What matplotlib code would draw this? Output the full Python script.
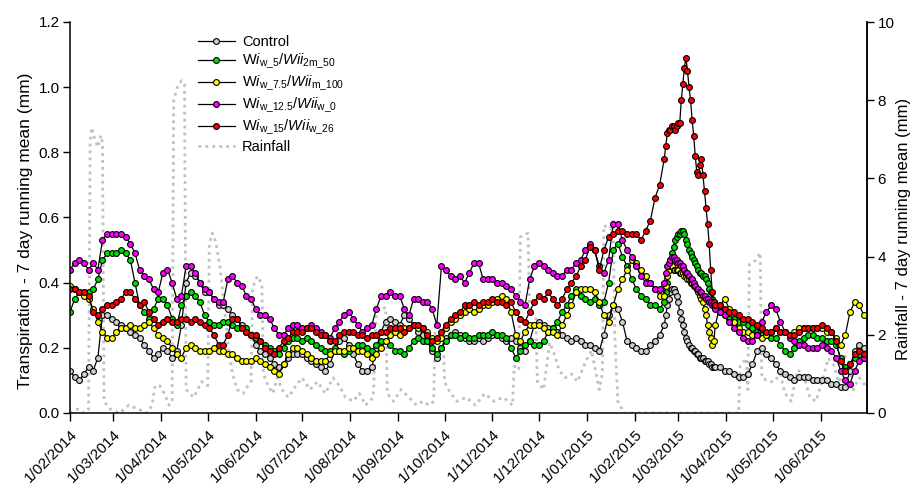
from datetime import datetime

import numpy as np
import pandas as pd
import matplotlib
matplotlib.use("Agg")
import matplotlib.pyplot as plt

plt.rcParams["font.family"] = ["Liberation Sans", "DejaVu Sans"]
plt.rcParams["mathtext.fontset"] = "custom"
plt.rcParams["mathtext.rm"] = "Liberation Sans"
plt.rcParams["mathtext.it"] = "Liberation Sans:italic"

start = pd.Timestamp("2014-02-01")

# sampling days after 1 Feb 2014: every 3 days, daily through the March 2015 peak
sample_day = np.r_[np.arange(0, 384, 3), np.arange(384, 418), np.arange(420, 514, 3)]

control = [
    0.13, 0.11, 0.10, 0.12, 0.14, 0.13, 0.17, 0.30, 0.30, 0.29,
    0.28, 0.27, 0.26, 0.25, 0.24, 0.23, 0.21, 0.19, 0.17, 0.18,
    0.20, 0.19, 0.17, 0.19, 0.27, 0.40, 0.43, 0.42, 0.40, 0.37,
    0.37, 0.35, 0.33, 0.33, 0.32, 0.30, 0.29, 0.27, 0.25, 0.24,
    0.21, 0.19, 0.18, 0.17, 0.15, 0.14, 0.15, 0.17, 0.18, 0.18,
    0.18, 0.17, 0.16, 0.15, 0.14, 0.13, 0.15, 0.19, 0.22, 0.23,
    0.21, 0.18, 0.15, 0.13, 0.13, 0.14, 0.20, 0.25, 0.28, 0.29,
    0.28, 0.27, 0.30, 0.29, 0.27, 0.25, 0.24, 0.22, 0.19, 0.17,
    0.20, 0.23, 0.24, 0.25, 0.24, 0.23, 0.22, 0.22, 0.23, 0.22,
    0.23, 0.24, 0.24, 0.23, 0.22, 0.23, 0.22, 0.20, 0.19, 0.22,
    0.27, 0.28, 0.27, 0.26, 0.26, 0.25, 0.24, 0.23, 0.22, 0.23,
    0.22, 0.21, 0.21, 0.20, 0.19, 0.24, 0.30, 0.33, 0.32, 0.28,
    0.22, 0.21, 0.20, 0.19, 0.19, 0.21, 0.22, 0.24,
    0.27, 0.30, 0.33, 0.35, 0.37, 0.38, 0.38, 0.37, 0.36, 0.34,
    0.31, 0.29, 0.27, 0.25, 0.23, 0.22, 0.21, 0.20, 0.20, 0.19,
    0.19, 0.18, 0.18, 0.17, 0.17, 0.17, 0.16, 0.16, 0.16, 0.15,
    0.15, 0.14, 0.14, 0.14,
    0.14, 0.13, 0.13, 0.12, 0.11, 0.11, 0.12, 0.15, 0.19, 0.20,
    0.18, 0.17, 0.15, 0.13, 0.12, 0.11, 0.10, 0.11, 0.11, 0.11,
    0.10, 0.10, 0.10, 0.10, 0.09, 0.09, 0.08, 0.08, 0.13, 0.19,
    0.21, 0.20,
]

wi_5 = [
    0.31, 0.35, 0.37, 0.37, 0.37, 0.38, 0.41, 0.47, 0.49, 0.49,
    0.49, 0.50, 0.49, 0.47, 0.40, 0.33, 0.31, 0.29, 0.32, 0.35,
    0.35, 0.33, 0.29, 0.27, 0.33, 0.36, 0.37, 0.36, 0.34, 0.30,
    0.28, 0.27, 0.27, 0.28, 0.28, 0.27, 0.26, 0.26, 0.26, 0.24,
    0.23, 0.22, 0.21, 0.20, 0.19, 0.18, 0.20, 0.22, 0.23, 0.23,
    0.22, 0.23, 0.22, 0.21, 0.20, 0.19, 0.19, 0.20, 0.19, 0.18,
    0.19, 0.20, 0.21, 0.21, 0.20, 0.19, 0.21, 0.22, 0.22, 0.21,
    0.19, 0.19, 0.18, 0.20, 0.22, 0.23, 0.22, 0.22, 0.20, 0.18,
    0.20, 0.22, 0.24, 0.24, 0.23, 0.24, 0.23, 0.23, 0.24, 0.24,
    0.24, 0.25, 0.24, 0.24, 0.23, 0.20, 0.17, 0.19, 0.21, 0.22,
    0.21, 0.21, 0.22, 0.25, 0.26, 0.28, 0.31, 0.33, 0.36, 0.38,
    0.36, 0.35, 0.34, 0.35, 0.33, 0.34, 0.40, 0.50, 0.52, 0.48,
    0.45, 0.41, 0.38, 0.36, 0.35, 0.33, 0.33, 0.32,
    0.34, 0.37, 0.40, 0.44, 0.47, 0.49, 0.51, 0.53, 0.54, 0.55,
    0.55, 0.56, 0.56, 0.55, 0.53, 0.52, 0.50, 0.49, 0.48, 0.47,
    0.46, 0.45, 0.44, 0.43, 0.43, 0.42, 0.42, 0.41, 0.40, 0.38,
    0.37, 0.35, 0.34, 0.33,
    0.31, 0.30, 0.29, 0.29, 0.28, 0.28, 0.27, 0.26, 0.25, 0.24,
    0.24, 0.23, 0.23, 0.21, 0.19, 0.18, 0.20, 0.22, 0.23, 0.24,
    0.24, 0.23, 0.23, 0.22, 0.22, 0.21, 0.17, 0.14, 0.15, 0.17,
    0.18, 0.17,
]

wi_7_5 = [
    0.39, 0.38, 0.37, 0.36, 0.35, 0.32, 0.28, 0.25, 0.23, 0.23,
    0.25, 0.26, 0.26, 0.27, 0.26, 0.26, 0.27, 0.28, 0.26, 0.24,
    0.23, 0.22, 0.20, 0.18, 0.17, 0.20, 0.21, 0.20, 0.19, 0.19,
    0.19, 0.20, 0.19, 0.19, 0.18, 0.18, 0.17, 0.16, 0.16, 0.16,
    0.17, 0.16, 0.15, 0.14, 0.13, 0.12, 0.15, 0.18, 0.20, 0.20,
    0.19, 0.18, 0.17, 0.16, 0.16, 0.16, 0.18, 0.19, 0.19, 0.19,
    0.20, 0.20, 0.19, 0.19, 0.18, 0.17, 0.18, 0.20, 0.22, 0.24,
    0.25, 0.24, 0.26, 0.26, 0.27, 0.26, 0.26, 0.25, 0.23, 0.22,
    0.23, 0.26, 0.28, 0.29, 0.30, 0.31, 0.32, 0.31, 0.32, 0.33,
    0.33, 0.34, 0.35, 0.36, 0.35, 0.31, 0.24, 0.22, 0.25, 0.27,
    0.27, 0.27, 0.26, 0.25, 0.25, 0.24, 0.27, 0.30, 0.33, 0.37,
    0.38, 0.38, 0.38, 0.37, 0.34, 0.30, 0.28, 0.33, 0.38, 0.41,
    0.44, 0.47, 0.46, 0.44, 0.42, 0.40, 0.38, 0.36,
    0.36, 0.39, 0.42, 0.44, 0.45, 0.45, 0.44, 0.44, 0.44, 0.44,
    0.43, 0.43, 0.43, 0.42, 0.42, 0.41, 0.41, 0.40, 0.40, 0.39,
    0.39, 0.38, 0.37, 0.36, 0.35, 0.34, 0.32, 0.30, 0.27, 0.25,
    0.23, 0.21, 0.22, 0.27,
    0.33, 0.35, 0.32, 0.28, 0.26, 0.25, 0.25, 0.24, 0.24, 0.23,
    0.24, 0.25, 0.26, 0.25, 0.25, 0.24, 0.25, 0.26, 0.26, 0.26,
    0.26, 0.26, 0.26, 0.25, 0.25, 0.23, 0.21, 0.24, 0.31, 0.34,
    0.33, 0.30,
]

wi_12_5 = [
    0.44, 0.46, 0.47, 0.46, 0.44, 0.46, 0.44, 0.53, 0.55, 0.55,
    0.55, 0.55, 0.54, 0.52, 0.49, 0.44, 0.42, 0.41, 0.38, 0.37,
    0.43, 0.44, 0.40, 0.35, 0.36, 0.45, 0.45, 0.43, 0.40, 0.38,
    0.37, 0.35, 0.34, 0.34, 0.41, 0.42, 0.40, 0.39, 0.36, 0.35,
    0.32, 0.30, 0.30, 0.29, 0.26, 0.24, 0.24, 0.26, 0.27, 0.27,
    0.26, 0.26, 0.27, 0.26, 0.25, 0.24, 0.23, 0.26, 0.28, 0.30,
    0.31, 0.29, 0.27, 0.25, 0.26, 0.27, 0.32, 0.36, 0.36, 0.37,
    0.36, 0.36, 0.32, 0.30, 0.35, 0.35, 0.34, 0.34, 0.32, 0.27,
    0.45, 0.44, 0.42, 0.41, 0.42, 0.40, 0.43, 0.46, 0.46, 0.41,
    0.41, 0.41, 0.40, 0.40, 0.39, 0.38, 0.36, 0.34, 0.33, 0.41,
    0.45, 0.46, 0.45, 0.44, 0.43, 0.42, 0.42, 0.44, 0.44, 0.46,
    0.47, 0.50, 0.52, 0.50, 0.45, 0.43, 0.47, 0.58, 0.58, 0.53,
    0.50, 0.48, 0.45, 0.42, 0.40, 0.40, 0.38, 0.38,
    0.40, 0.43, 0.45, 0.46, 0.47, 0.48, 0.48, 0.47, 0.47, 0.46,
    0.46, 0.45, 0.45, 0.44, 0.43, 0.43, 0.42, 0.41, 0.41, 0.40,
    0.39, 0.38, 0.38, 0.37, 0.37, 0.36, 0.36, 0.35, 0.35, 0.34,
    0.34, 0.33, 0.33, 0.32,
    0.31, 0.30, 0.28, 0.26, 0.25, 0.23, 0.22, 0.22, 0.24, 0.28,
    0.31, 0.33, 0.32, 0.28, 0.25, 0.23, 0.22, 0.21, 0.21, 0.20,
    0.20, 0.20, 0.21, 0.20, 0.19, 0.17, 0.13, 0.10, 0.09, 0.13,
    0.16, 0.17,
]

wi_15 = [
    0.38, 0.38, 0.37, 0.37, 0.36, 0.31, 0.30, 0.32, 0.33, 0.33,
    0.34, 0.35, 0.37, 0.37, 0.35, 0.33, 0.34, 0.31, 0.29, 0.27,
    0.28, 0.29, 0.28, 0.28, 0.29, 0.29, 0.28, 0.29, 0.28, 0.27,
    0.26, 0.24, 0.21, 0.21, 0.24, 0.29, 0.29, 0.26, 0.25, 0.24,
    0.24, 0.22, 0.20, 0.19, 0.18, 0.20, 0.22, 0.23, 0.25, 0.25,
    0.25, 0.26, 0.26, 0.25, 0.24, 0.24, 0.22, 0.22, 0.24, 0.25,
    0.25, 0.25, 0.24, 0.24, 0.23, 0.24, 0.24, 0.25, 0.25, 0.26,
    0.26, 0.26, 0.25, 0.26, 0.27, 0.27, 0.26, 0.24, 0.22, 0.23,
    0.25, 0.27, 0.29, 0.30, 0.31, 0.33, 0.33, 0.34, 0.33, 0.34,
    0.34, 0.35, 0.34, 0.34, 0.33, 0.34, 0.31, 0.29, 0.28, 0.31,
    0.34, 0.36, 0.35, 0.37, 0.35, 0.33, 0.35, 0.38, 0.40, 0.42,
    0.45, 0.47, 0.51, 0.50, 0.44, 0.50, 0.54, 0.55, 0.56, 0.56,
    0.55, 0.55, 0.55, 0.53, 0.56, 0.59, 0.66, 0.70,
    0.78, 0.82, 0.86, 0.87, 0.87, 0.88, 0.88, 0.87, 0.88, 0.89,
    0.89, 0.96, 1.01, 1.06, 1.09, 1.05, 1.00, 0.96, 0.90, 0.85,
    0.79, 0.74, 0.73, 0.76, 0.78, 0.73, 0.68, 0.63, 0.58, 0.52,
    0.44, 0.37, 0.34, 0.33,
    0.33, 0.32, 0.31, 0.31, 0.30, 0.29, 0.29, 0.28, 0.27, 0.26,
    0.25, 0.25, 0.26, 0.25, 0.25, 0.24, 0.24, 0.25, 0.26, 0.26,
    0.26, 0.26, 0.27, 0.26, 0.25, 0.22, 0.16, 0.13, 0.15, 0.18,
    0.19, 0.18,
]

# rainfall running mean, read at its break points (day after 1 Feb 2014, mm)
rain_day = [
    0, 5, 9, 12, 13, 14, 16, 18, 20, 21, 22, 26, 32, 38, 44, 50, 53, 55, 58,
    61, 64, 66, 67, 69, 72, 74, 75, 80, 85, 89, 90, 92, 94, 95, 97, 99, 101,
    103, 105, 108, 112, 115, 117, 118, 121, 124, 125, 128, 131, 134, 137,
    141, 146, 150, 155, 160, 165, 170, 174, 178, 183, 187, 191, 196, 198,
    204, 205, 209, 214, 219, 224, 228, 232, 235, 236, 241, 242, 246, 250,
    256, 262, 268, 274, 280, 286, 287, 290, 291, 296, 297, 301, 302, 306,
    310, 313, 316, 320, 324, 328, 333, 337, 339, 342, 344, 345, 349, 351,
    352, 354, 358, 380, 400, 420, 432, 433, 437, 438, 439, 443, 446, 447,
    452, 455, 459, 462, 466, 470, 474, 478, 482, 486, 490, 494, 497, 500,
    503, 506, 510, 514,
]
rain_mm = [
    0.0, 0.1, 0.0, 0.1, 6.9, 7.3, 7.0, 6.8, 7.1, 6.9, 0.3, 0.1, 0.0, 0.2,
    0.1, 0.0, 0.2, 0.7, 0.7, 0.5, 0.2, 0.3, 8.0, 8.3, 8.5, 8.4, 0.6, 0.4,
    0.8, 0.7, 4.3, 4.6, 4.4, 4.2, 3.7, 3.0, 2.2, 1.5, 1.0, 0.6, 0.5, 0.7,
    0.8, 3.2, 3.5, 3.3, 1.0, 0.7, 0.5, 0.9, 0.6, 0.4, 0.7, 0.9, 0.6, 0.8,
    0.5, 0.9, 0.7, 0.4, 0.3, 0.5, 0.2, 0.4, 2.6, 2.7, 0.5, 0.3, 0.6, 0.4,
    0.2, 0.3, 0.2, 0.3, 2.3, 2.2, 0.8, 0.5, 0.3, 0.4, 0.2, 0.5, 0.3, 0.4,
    0.2, 1.2, 1.1, 4.5, 4.6, 2.6, 2.5, 0.8, 0.6, 1.8, 1.5, 1.1, 0.9, 1.0,
    0.8, 1.3, 1.6, 1.2, 0.6, 1.0, 4.8, 4.7, 4.9, 2.0, 0.3, 0.0, 0.0, 0.0,
    0.0, 0.0, 1.2, 1.4, 0.6, 3.8, 3.9, 4.1, 0.9, 0.8, 0.8, 1.0, 0.5, 0.3,
    1.1, 1.0, 0.4, 0.3, 0.8, 1.4, 1.2, 0.7, 1.5, 1.3, 0.6, 0.9, 0.7,
]

month_labels = [
    "1/02/2014", "1/03/2014", "1/04/2014", "1/05/2014", "1/06/2014",
    "1/07/2014", "1/08/2014", "1/09/2014", "1/10/2014", "1/11/2014",
    "1/12/2014", "1/01/2015", "1/02/2015", "1/03/2015", "1/04/2015",
    "1/05/2015", "1/06/2015",
]

series_names = [
    "Control",
    r"W$\mathit{i}_{\mathrm{w\_5}}$/$\mathit{Wii}_{\mathrm{2m\_50}}$",
    r"W$\mathit{i}_{\mathrm{w\_7.5}}$/$\mathit{Wii}_{\mathrm{m\_100}}$",
    r"W$\mathit{i}_{\mathrm{w\_12.5}}$/$\mathit{Wii}_{\mathrm{w\_0}}$",
    r"W$\mathit{i}_{\mathrm{w\_15}}$/$\mathit{Wii}_{\mathrm{w\_26}}$",
]
series_values = [control, wi_5, wi_7_5, wi_12_5, wi_15]
marker_colors = ["#d0d0d0", "#00e000", "#ffff00", "#ff00ff", "#ff0000"]

dates = start + pd.to_timedelta(sample_day, unit="D")
rain_dates = start + pd.to_timedelta(rain_day, unit="D")
tick_dates = [datetime.strptime(s, "%d/%m/%Y") for s in month_labels]

fig = plt.figure(figsize=(9.11, 4.86), dpi=100)
ax = fig.add_axes([70 / 911, 1 - 413 / 486, 797 / 911, 391 / 486])
ax2 = ax.twinx()

# rainfall sits behind the transpiration curves
ax.set_zorder(ax2.get_zorder() + 1)
ax.patch.set_visible(False)

rain_line, = ax2.plot(rain_dates, rain_mm, color="#c0c0c0", lw=2.0,
                      ls=(0, (1, 1.5)), label="Rainfall")

handles = []
for name, vals, col in zip(series_names, series_values, marker_colors):
    h, = ax.plot(dates, vals, color="black", lw=0.9, marker="o", ms=4.2,
                 mfc=col, mec="black", mew=0.8, label=name)
    handles.append(h)
handles.append(rain_line)

ax.set_xlim(start, start + pd.Timedelta(days=515))
ax.set_ylim(0, 1.2)
ax2.set_ylim(0, 10)

ax.set_yticks(np.arange(0, 1.21, 0.2))
ax.set_yticklabels([f"{v:.1f}" for v in np.arange(0, 1.21, 0.2)])
ax2.set_yticks(np.arange(0, 11, 2))

ax.set_xticks(tick_dates)
ax.set_xticklabels(month_labels, rotation=45, ha="right",
                   rotation_mode="anchor")

for a in (ax, ax2):
    a.spines["top"].set_visible(False)
    for s in a.spines.values():
        s.set_linewidth(1.1)
ax2.spines["left"].set_visible(False)
ax2.spines["bottom"].set_visible(False)

ax.tick_params(axis="y", direction="out", length=5, width=1, labelsize=11,
               pad=2.5)
ax.tick_params(axis="x", direction="out", length=6, width=1, labelsize=11,
               pad=4)
ax2.tick_params(axis="y", direction="out", length=5, width=1, labelsize=11,
                pad=2.5)

ax.set_ylabel("Transpiration - 7 day running mean (mm)", fontsize=12.5,
              labelpad=4)
ax2.set_ylabel("Rainfall - 7 day running mean (mm)", fontsize=12,
               labelpad=1)
ax.yaxis.label.set_y(0.465)
ax2.yaxis.label.set_y(0.47)

ax.legend(handles=handles, loc="upper left", bbox_to_anchor=(0.16, 0.966),
          frameon=False, fontsize=10.5, handlelength=2.6, handletextpad=0.45,
          labelspacing=0.2, borderpad=0, borderaxespad=0)

fig.savefig("out.png", dpi=100)
